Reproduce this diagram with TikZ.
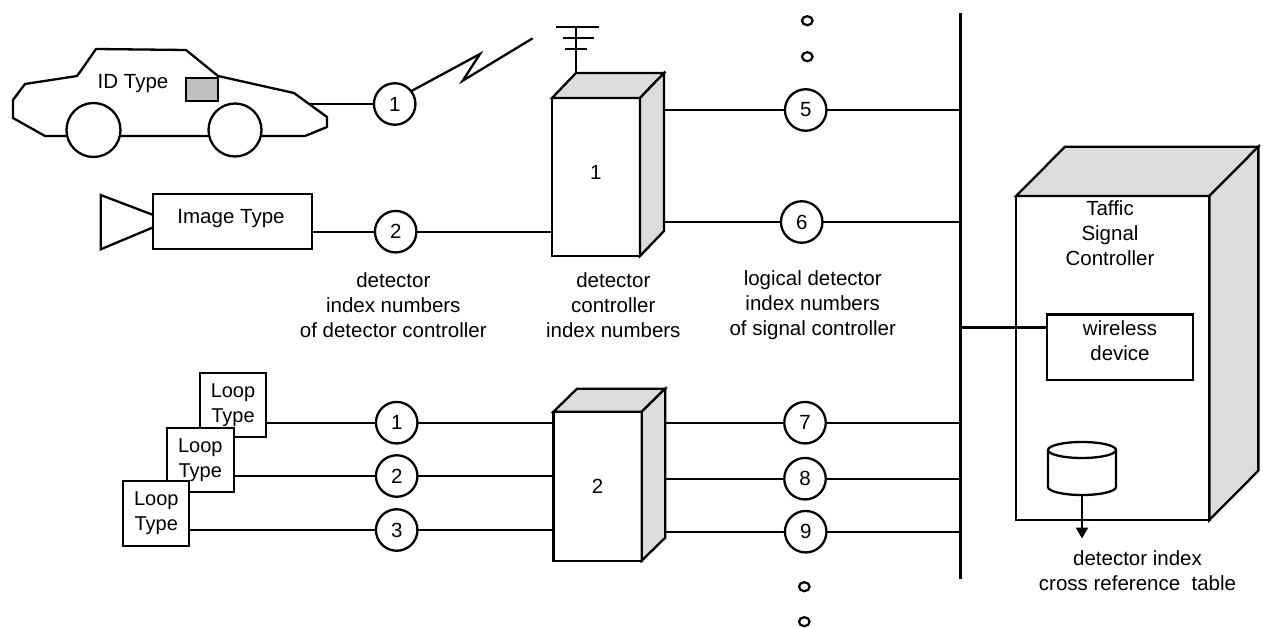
\documentclass[tikz,border=0pt]{standalone}
\usepackage{fontspec}
\setmainfont{Liberation Sans}
\usetikzlibrary{calc,arrows.meta}
\definecolor{facegray}{RGB}{220,220,220}
\definecolor{taggray}{RGB}{192,192,192}
\newcommand\lblfont{\fontsize{20.5}{25}\selectfont}
\newcommand\loopfont{\fontsize{20}{25}\selectfont}
\begin{document}
\begin{tikzpicture}[x=1pt,y=-1pt,line width=2.3pt,
  num/.style={circle,draw,fill=white,minimum size=41.5pt,inner sep=0pt,outer sep=0pt,font=\lblfont},
  boxnode/.style={rectangle,draw,fill=white,inner sep=0pt,outer sep=0pt},
  txt/.style={font=\lblfont,align=center,inner sep=0pt},
  loopbox/.style={boxnode,font=\loopfont,align=center,minimum width=66pt,minimum height=64pt},
  face/.style={draw,fill=facegray},
  dot/.style={draw,line width=2.2pt}
]
\useasboundingbox (0,0) rectangle (1263,628);

% ---------------- car (ID type)
\draw[fill=white] (96,49) -- (186,50) -- (218,76) -- (294,93) -- (327,117) -- (327,127)
  -- (305,136) -- (45,136) -- (13,118) -- (13,100) -- (25,84) -- (77,76) -- (80,72) -- cycle;
\draw[fill=white] (93.5,130) circle [radius=27];
\draw[fill=white] (235,130) circle [radius=26.5];
\draw[fill=taggray] (186,78) rectangle (218,101);
\node[txt] (idtype) at (133,84) {ID Type};
\coordinate (carR) at (310,104);

% ---------------- bus
\coordinate (busT) at (960.5,13.3);
\coordinate (busB) at (960.5,579.3);
\draw (busT) -- (busB);

% ---------------- detector controller 1
\node[boxnode,minimum width=88pt,minimum height=158pt] (b1) at (596,177) {};
\draw[face] (b1.north west) -- ++(24,-25) -- ++(88,0) -- (b1.north east) -- cycle;
\draw[face] (b1.north east) -- ++(24,-25) -- ++(0,158) -- (b1.south east) -- cycle;
\node[txt] (b1lbl) at (595.7,172) {1};
\coordinate (b1e) at ($(b1.north east)+(24,0)$);
\coordinate (ant) at ($(b1.north west)+(24,-25)$);
% antenna
\coordinate (antTop) at ($(ant)+(0,-46)$);
\draw (ant) -- (antTop);
\draw (556,26.7) -- (598.7,26.7);
\draw (562.7,37.7) -- (594,37.7);
\draw (565,49.3) -- (587,49.3);

% circle 1 and radio link
\node[num] (c1) at (394.7,104) {1};
\draw (carR) -- (c1);
\coordinate (zz) at (532.7,38.3);
\draw[line join=miter] (c1.38) -- (480,54) -- (462.7,80.7) -- (zz);

% ---------------- image type
\draw[fill=white] (153.3,215) -- (100.7,195) -- (100.7,249.3) -- (153.3,227.3);
\node[boxnode,minimum width=158.4pt,minimum height=55pt] (img) at (232.5,221.8) {};
\node[txt] (imgtxt) at (231,218.5) {Image Type};
\node[num] (c2) at (395.7,231.7) {2};
\draw (img.east |- c2) -- (c2) -- (c2 -| b1.west);

% outputs of controller 1
\node[num] (c5) at (805.7,110) {5};
\node[num] (c6) at (801.7,222) {6};
\draw (c5 -| b1e) -- (c5) -- (c5 -| busT);
\draw (c6 -| b1e) -- (c6) -- (c6 -| busT);

% dots
\draw[dot] (807.3,20.7) ellipse [x radius=5.3, y radius=4.5];
\draw[dot] (807.3,56.7) ellipse [x radius=5.3, y radius=4.5];
\draw[dot] (804.3,586.7) ellipse [x radius=5.3, y radius=4.5];
\draw[dot] (804.3,621.7) ellipse [x radius=5.3, y radius=4.5];

% labels
\node[txt] (lab1) at (393.3,305) {detector\\index numbers\\of detector controller};
\node[txt] (lab2) at (613.3,305) {detector\\controller\\index numbers};
\node[txt] (lab3) at (812.7,305) {logical detector\\index numbers\\of signal controller};

% ---------------- traffic signal controller
\node[boxnode,minimum width=193.3pt,minimum height=324pt] (sc) at (1112.7,358) {};
\draw[face] (sc.north west) -- ++(49,-49.3) -- ++(193.3,0) -- (sc.north east) -- cycle;
\draw[face] (sc.north east) -- ++(49,-49.3) -- ++(0,324) -- (sc.south east) -- cycle;
\node[txt] (sctxt) at (1110,233.3) {Taffic\\Signal\\Controller};
\node[boxnode,minimum width=145.4pt,minimum height=65.7pt] (wl) at (1120,347.2) {};
\node[txt] (wltxt) at (1120,341) {wireless\\device};
\coordinate (wlin) at ($(wl.north west)+(0,13)$);
\draw (wlin -| busT) -- (wlin);

% database cylinder
\draw[fill=white] (1048,450) -- (1048,487) .. controls (1048,491.4) and (1063.2,495) .. (1082,495)
  .. controls (1100.8,495) and (1116,491.4) .. (1116,487) -- (1116,450);
\draw[fill=white] (1048,450) .. controls (1048,445.6) and (1063.2,442) .. (1082,442)
  .. controls (1100.8,442) and (1116,445.6) .. (1116,450)
  .. controls (1116,454.4) and (1100.8,458) .. (1082,458)
  .. controls (1063.2,458) and (1048,454.4) .. (1048,450) -- cycle;
\coordinate (cylB) at (1082,495);
\coordinate (tblEnd) at (1082,538.5);
\draw[-{Triangle[length=11pt,width=12pt]}] (cylB) -- (tblEnd);
\node[txt] (tbl) at (1137.5,570.2) {detector index\\cross reference~ table};

% ---------------- loop detectors
\node[loopbox] (lA) at (233,405.3) {Loop\\Type};
\node[loopbox,minimum width=67.3pt] (lB) at (200.3,459.7) {Loop\\Type};
\node[loopbox,minimum height=65pt] (lC) at (156.3,513.5) {Loop\\Type};

% detector controller 2
\node[boxnode,minimum width=88.2pt,minimum height=149pt,font=\lblfont] (b2) at (597.6,486.2) {2};
\draw[face] (b2.north west) -- ++(23.5,-23) -- ++(88.2,0) -- (b2.north east) -- cycle;
\draw[face] (b2.north east) -- ++(23.5,-23) -- ++(0,149) -- (b2.south east) -- cycle;
\coordinate (b2e) at ($(b2.north east)+(23.5,0)$);

\node[num] (cb1) at (396.7,422.7) {1};
\node[num] (cb2) at (396.7,476) {2};
\node[num] (cb3) at (396.7,530) {3};
\draw (cb1 -| lA.east) -- (cb1) -- (cb1 -| b2.west);
\draw (cb2 -| lB.east) -- (cb2) -- (cb2 -| b2.west);
\draw (cb3 -| lC.east) -- (cb3) -- (cb3 -| b2.west);

\node[num] (c7) at (805,422.7) {7};
\node[num] (c8) at (805,478.7) {8};
\node[num] (c9) at (805.7,531.7) {9};
\draw (c7 -| b2e) -- (c7) -- (c7 -| busT);
\draw (c8 -| b2e) -- (c8) -- (c8 -| busT);
\draw (c9 -| b2e) -- (c9) -- (c9 -| busT);
\end{tikzpicture}
\end{document}
